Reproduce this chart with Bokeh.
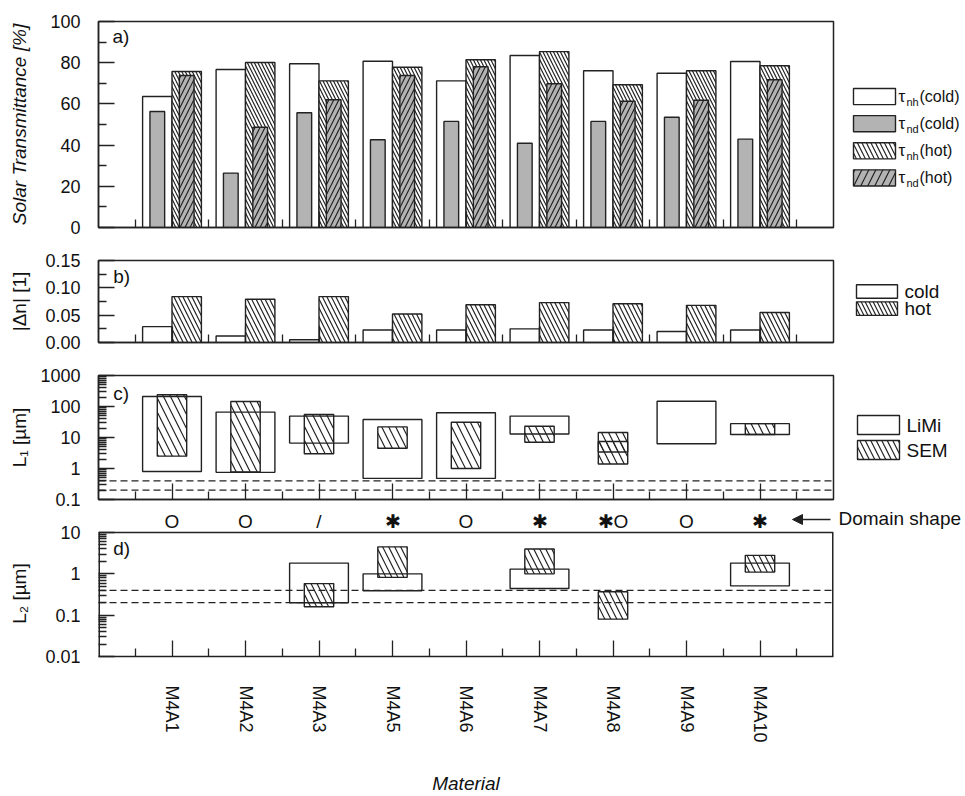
import numpy as np
from bokeh.plotting import figure
from bokeh.layouts import column, row
from bokeh.models import (Range1d, FixedTicker, Span, Arrow, NormalHead, PrintfTickFormatter,
                          CustomLabelingPolicy)
from bokeh.core.properties import value
from bokeh.embed import file_html
from bokeh.resources import INLINE

# ---------------- data ----------------
materials = ["M4A1", "M4A2", "M4A3", "M4A5", "M4A6", "M4A7", "M4A8", "M4A9", "M4A10"]
domain_shapes = ["O", "O", "/", "\u2731", "O", "\u2731", "\u2731O", "O", "\u2731"]

# a) solar transmittance [%]
tau_nh_cold = [63.6, 76.7, 79.5, 80.7, 71.2, 83.5, 76.1, 74.9, 80.6]
tau_nd_cold = [56.3, 26.4, 55.7, 42.6, 51.5, 40.9, 51.5, 53.5, 42.9]
tau_nh_hot = [75.7, 80.1, 71.2, 77.8, 81.4, 85.4, 69.3, 76.1, 78.5]
tau_nd_hot = [73.8, 48.7, 62.0, 73.8, 78.0, 69.8, 61.3, 61.8, 71.7]

# b) |delta n|
dn_cold = [0.029, 0.012, 0.005, 0.023, 0.023, 0.025, 0.023, 0.020, 0.023]
dn_hot = [0.084, 0.079, 0.084, 0.052, 0.069, 0.073, 0.071, 0.068, 0.055]

# c) L1 ranges [um]
L1_limi_mat = ["M4A1", "M4A2", "M4A3", "M4A5", "M4A6", "M4A7", "M4A9", "M4A10"]
L1_limi_lo = [0.8, 0.75, 6.6, 0.48, 0.48, 13.0, 6.3, 12.5]
L1_limi_hi = [210, 66, 49, 38, 63, 49, 148, 28]
L1_sem_mat = ["M4A1", "M4A2", "M4A3", "M4A5", "M4A6", "M4A7", "M4A8", "M4A8", "M4A10"]
L1_sem_lo = [2.5, 0.78, 3.0, 4.5, 1.0, 7.0, 3.4, 1.4, 12.5]
L1_sem_hi = [240, 145, 55, 22, 31, 23, 14.5, 7.4, 28]

# d) L2 ranges [um]
L2_limi_mat = ["M4A3", "M4A5", "M4A7", "M4A10"]
L2_limi_lo = [0.2, 0.39, 0.44, 0.51]
L2_limi_hi = [1.82, 1.0, 1.3, 1.82]
L2_sem_mat = ["M4A3", "M4A5", "M4A7", "M4A8", "M4A10"]
L2_sem_lo = [0.16, 0.82, 1.0, 0.08, 1.1]
L2_sem_hi = [0.58, 4.5, 4.0, 0.37, 2.8]

wavelength_limits = [0.2, 0.4]

a_ticks = [0, 20, 40, 60, 80, 100]
a_minor = [10, 30, 50, 70, 90]
b_ticks = [0.0, 0.05, 0.10, 0.15]
b_minor = [0.025, 0.075, 0.125]
c_ticks = [0.1, 1, 10, 100, 1000]
c_tick_labels = ["0.1", "1", "10", "100", "1000"]
d_ticks = [0.01, 0.1, 1, 10]
d_tick_labels = ["0.01", "0.1", "1", "10"]

a_leg_sub = ["nh", "nd", "nh", "nd"]
a_leg_cond = ["(cold)", "(cold)", "(hot)", "(hot)"]
b_leg = ["cold", "hot"]
c_leg = ["LiMi", "SEM"]

# ---------------- layout constants (page pixels) ----------------
FONT = "Liberation Sans"
INK = "#222222"
GRAY = "#b3b3b3"
FW = 735          # frame width
LEFT = 98         # frame left edge
RIGHT = 4
MAIN_W = LEFT + FW + RIGHT
LEG_W = 965 - MAIN_W
PX_PER_CAT = FW / 10.0

n = len(materials)
xs = np.arange(1, n + 1, dtype=float)
pos = {m: i + 1.0 for i, m in enumerate(materials)}
x_minor = list(np.arange(0.5, n + 1, 1.0))

NO_LABELS = CustomLabelingPolicy(code="for (const i of indices) { if (false) yield i }")


def log_minor(e0, e1):
    return [m * 10.0 ** e for e in range(e0, e1) for m in range(2, 10)]


def base(frame_h, top, bottom, y_range, y_type="linear"):
    p = figure(frame_width=FW, frame_height=frame_h,
               min_border_left=LEFT, min_border_right=RIGHT,
               min_border_top=top, min_border_bottom=bottom,
               x_range=Range1d(0, n + 1), y_range=y_range, y_axis_type=y_type,
               output_backend="svg", toolbar_location=None)
    p.xgrid.visible = False
    p.ygrid.visible = False
    p.outline_line_color = INK
    p.outline_line_width = 1.5
    for ax in (p.xaxis[0], p.yaxis[0]):
        ax.axis_line_color = INK
        ax.axis_line_width = 1.5
        ax.major_tick_in = 16
        ax.major_tick_out = 0
        ax.minor_tick_in = 8
        ax.minor_tick_out = 0
        ax.major_tick_line_color = INK
        ax.minor_tick_line_color = INK
        ax.major_tick_line_width = 1.3
        ax.minor_tick_line_width = 1.3
        ax.major_label_text_font = FONT
        ax.major_label_text_font_size = "18px"
        ax.major_label_text_color = "#111111"
        ax.axis_label_text_font = FONT
        ax.axis_label_text_font_size = "19px"
        ax.axis_label_text_font_style = "normal"
        ax.axis_label_text_color = "#111111"
    p.xaxis.ticker = FixedTicker(ticks=list(xs), minor_ticks=x_minor)
    p.yaxis.major_label_standoff = 18
    return p


def hide_x_labels(p):
    p.xaxis.major_label_policy = NO_LABELS
    p.xaxis.major_label_text_font_size = "1px"
    p.xaxis.major_label_standoff = 0


def panel_label(p, x, y, t):
    p.text(x=[x], y=[y], text=[t], text_font=value(FONT), text_font_size="19px",
           text_baseline="middle", text_align="left", text_color="#111111")


def dashes(p):
    for w in wavelength_limits:
        p.add_layout(Span(location=w, dimension="width", line_color=INK,
                          line_width=1.3, line_dash="7 4"))


def legend_fig(h):
    q = figure(width=LEG_W, height=h, x_range=Range1d(0, LEG_W), y_range=Range1d(h, 0),
               min_border=0, x_axis_location=None, y_axis_location=None,
               output_backend="svg", toolbar_location=None)
    q.grid.visible = False
    q.outline_line_color = None
    return q


def ltext(q, x, y, t, size="19px"):
    q.text(x=[x], y=[y], text=[t], text_font=value(FONT), text_font_size=size,
           text_baseline="middle", text_align="left", text_color="#111111")


bar_kw = dict(line_color=INK, line_width=1.4)
hatch_kw = dict(hatch_color=INK, hatch_weight=1.2)

# row heights: top border + frame + bottom border
HA = 21 + 206 + 16
HB = 17 + 82 + 16
HC = 17 + 124 + 10
GAP = 23                     # domain-shape strip drawn inside panel d's frame
HD = 0 + GAP + 124 + 140

# ---------------- panel a ----------------
pa = base(206, 21, 16, Range1d(0, 100))
pa.yaxis.ticker = FixedTicker(ticks=a_ticks, minor_ticks=a_minor)
pa.yaxis.axis_label = "Solar Transmittance [%]"
pa.yaxis.axis_label_text_font_style = "italic"
pa.yaxis.axis_label_standoff = 17
hide_x_labels(pa)
pa.vbar(x=xs - 0.2, width=0.4, top=tau_nh_cold, fill_color="white", **bar_kw)
pa.vbar(x=xs - 0.2, width=0.2, top=tau_nd_cold, fill_color=GRAY, **bar_kw)
pa.vbar(x=xs + 0.2, width=0.4, top=tau_nh_hot, fill_color="white",
        hatch_pattern="\\", hatch_scale=7, **hatch_kw, **bar_kw)
pa.vbar(x=xs + 0.2, width=0.2, top=tau_nd_hot, fill_color=GRAY,
        hatch_pattern="/", hatch_scale=10, **hatch_kw, **bar_kw)
panel_label(pa, 0.19, 92.5, "a)")

la = legend_fig(HA)
ox, oy = MAIN_W, 0
a_sw_top = [79, 111, 143, 175]
a_styles = [dict(fill_color="white"),
            dict(fill_color=GRAY),
            dict(fill_color="white", hatch_pattern="\\", hatch_scale=9, **hatch_kw),
            dict(fill_color=GRAY, hatch_pattern="/", hatch_scale=14, **hatch_kw)]
for t, st, sub, cond in zip(a_sw_top, a_styles, a_leg_sub, a_leg_cond):
    la.quad(left=[853 - ox], right=[895 - ox], top=[t - oy], bottom=[t + 19 - oy], **st, **bar_kw)
    cy = t + 9.5 - oy
    ltext(la, 898 - ox, cy, "\u03c4", "17px")
    ltext(la, 906 - ox, cy + 6, sub, "11px")
    ltext(la, 919 - ox, cy, cond, "16px")

# ---------------- panel b ----------------
pb = base(82, 17, 16, Range1d(0, 0.15))
pb.yaxis.ticker = FixedTicker(ticks=b_ticks, minor_ticks=b_minor)
pb.yaxis.formatter = PrintfTickFormatter(format="%.2f")
pb.yaxis.axis_label = "|\u0394n| [1]"
pb.yaxis.axis_label_standoff = 12
hide_x_labels(pb)
pb.vbar(x=xs - 0.2, width=0.4, top=dn_cold, fill_color="white", **bar_kw)
pb.vbar(x=xs + 0.2, width=0.4, top=dn_hot, fill_color="white",
        hatch_pattern="\\", hatch_scale=9, **hatch_kw, **bar_kw)
panel_label(pb, 0.2, 0.1207, "b)")

lb = legend_fig(HB)
oy = HA
b_sw_top = [277, 301]
b_styles = [dict(fill_color="white"),
            dict(fill_color="white", hatch_pattern="\\", hatch_scale=8, **hatch_kw)]
for t, st, lab in zip(b_sw_top, b_styles, b_leg):
    lb.quad(left=[856 - ox], right=[897 - ox], top=[t - oy], bottom=[t + 19 - oy], **st, **bar_kw)
    ltext(lb, 904 - ox, t + 10 - oy, lab)

# ---------------- panel c ----------------
pc = base(124, 17, 10, Range1d(0.1, 1000), "log")
pc.yaxis.ticker = FixedTicker(ticks=c_ticks, minor_ticks=log_minor(-1, 3))
pc.yaxis.major_label_overrides = dict(zip(c_ticks, c_tick_labels))
pc.yaxis.axis_label = "L\u2081 [\u00b5m]"
pc.yaxis.axis_label_standoff = 7
hide_x_labels(pc)
dashes(pc)
lx = np.array([pos[m] for m in L1_limi_mat])
pc.quad(left=lx - 0.4, right=lx + 0.4, bottom=L1_limi_lo, top=L1_limi_hi, fill_alpha=0, **bar_kw)
sx = np.array([pos[m] for m in L1_sem_mat])
pc.quad(left=sx - 0.2, right=sx + 0.2, bottom=L1_sem_lo, top=L1_sem_hi, fill_alpha=0,
        hatch_pattern="\\", hatch_scale=14, **hatch_kw, **bar_kw)
panel_label(pc, 0.2, 262, "c)")

# ---------------- panel d (frame extended upward by the domain-shape strip) ----------------
D_DEC = 124 / 3.0                     # pixels per decade
D_LO, D_HI = 0.01, 10.0
d_range_top = D_HI * 10 ** (GAP / D_DEC)
pd_ = base(GAP + 124, 0, 140, Range1d(D_LO, d_range_top), "log")
pd_.outline_line_color = None
pd_.yaxis.axis_line_color = None
pd_.yaxis.ticker = FixedTicker(ticks=d_ticks, minor_ticks=log_minor(-2, 1))
pd_.yaxis.major_label_overrides = dict(zip(d_ticks, d_tick_labels))
pd_.yaxis.axis_label = "L\u2082 [\u00b5m]" + "\u00a0" * 4
pd_.yaxis.axis_label_standoff = 12
pd_.xaxis.major_label_overrides = {float(x): m for x, m in zip(xs, materials)}
pd_.xaxis.major_label_orientation = "vertical"
pd_.xaxis.major_label_standoff = 29
pd_.xaxis.axis_label = "Material"
pd_.xaxis.axis_label_text_font_style = "italic"
pd_.xaxis.axis_label_standoff = 27
# panel d box (left/right edges sit on the clipped frame edge, hence double width)
pd_.segment(x0=[0, n + 1], y0=[D_LO, D_LO], x1=[0, n + 1], y1=[D_HI, D_HI],
            line_color=INK, line_width=3)
pd_.segment(x0=[0], y0=[D_HI], x1=[n + 1], y1=[D_HI], line_color=INK, line_width=1.5)
dashes(pd_)
lx = np.array([pos[m] for m in L2_limi_mat])
pd_.quad(left=lx - 0.4, right=lx + 0.4, bottom=L2_limi_lo, top=L2_limi_hi, fill_alpha=0, **bar_kw)
sx = np.array([pos[m] for m in L2_sem_mat])
pd_.quad(left=sx - 0.2, right=sx + 0.2, bottom=L2_sem_lo, top=L2_sem_hi, fill_alpha=0,
         hatch_pattern="\\", hatch_scale=12, **hatch_kw, **bar_kw)
panel_label(pd_, 0.2, 4.1, "d)")

# domain-shape strip just above the top of panel d
row_y = D_HI * 10 ** (11 / D_DEC)
arrow_y = D_HI * 10 ** (13 / D_DEC)
pd_.text(x=xs, y=[row_y] * n, text=domain_shapes, text_font=value(FONT), text_font_size="19px",
         text_align="center", text_baseline="middle", text_color="#111111")
pd_.add_layout(Arrow(end=NormalHead(size=10, fill_color=INK, line_color=INK, line_width=1),
                     x_start=(830 - LEFT) / PX_PER_CAT, y_start=arrow_y,
                     x_end=(792 - LEFT) / PX_PER_CAT, y_end=arrow_y,
                     line_color=INK, line_width=1.3))

# legend + "Domain shape" column for panels c and d
lcd = legend_fig(HC + HD)
oy = HA + HB
c_sw_top = [415, 440]
c_styles = [dict(fill_color="white"),
            dict(fill_color="white", hatch_pattern="\\", hatch_scale=11, **hatch_kw)]
for t, st, lab in zip(c_sw_top, c_styles, c_leg):
    lcd.quad(left=[857 - ox], right=[899 - ox], top=[t - oy], bottom=[t + 19 - oy], **st, **bar_kw)
    ltext(lcd, 906 - ox, t + 10 - oy, lab)
ltext(lcd, 838 - ox, 518 - oy, "Domain shape")

layout = column(row(pa, la), row(pb, lb), row(column(pc, pd_), lcd))

with open("out.html", "w") as f:
    f.write(file_html(layout, INLINE))
